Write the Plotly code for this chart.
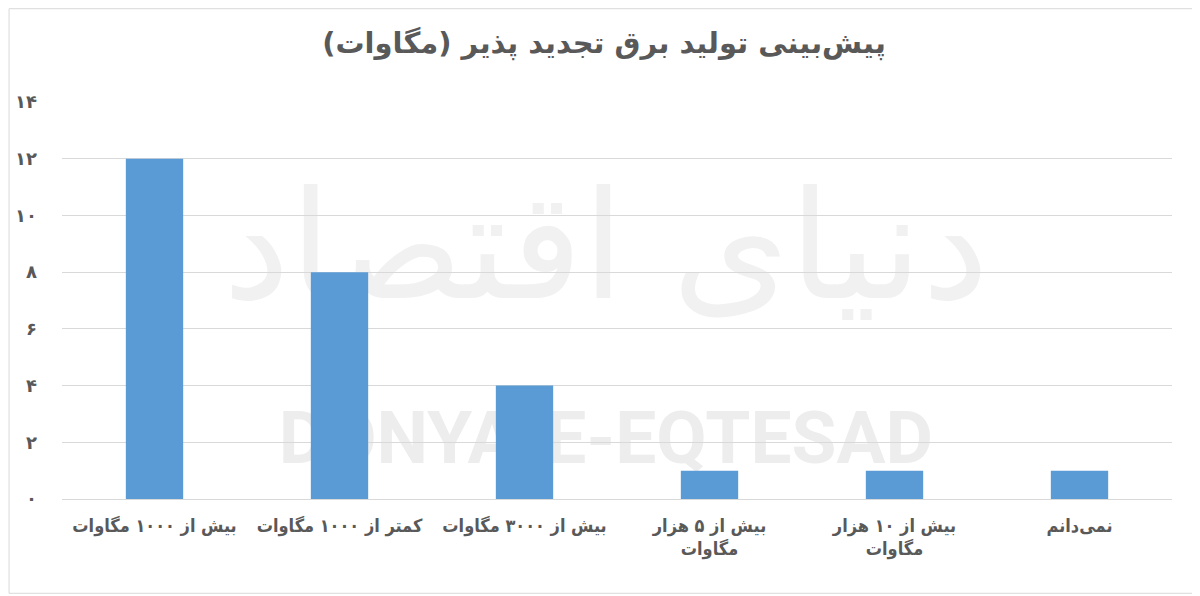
import plotly.graph_objects as go

# data
categories = [
    "بیش از ۱۰۰۰ مگاوات",
    "کمتر از ۱۰۰۰ مگاوات",
    "بیش از ۳۰۰۰ مگاوات",
    "بیش از ۵ هزار<br>مگاوات",
    "بیش از ۱۰ هزار<br>مگاوات",
    "نمی‌دانم",
]
values = [12, 8, 4, 1, 1, 1]
y_ticks = [0, 2, 4, 6, 8, 10, 12, 14]
y_tick_labels = ["۰", "۲", "۴", "۶", "۸", "۱۰", "۱۲", "۱۴"]
title = "پیش‌بینی تولید برق تجدید پذیر (مگاوات)"

font_family = "DejaVu Sans"
label_family = "DejaVu Sans Condensed, DejaVu Sans"
text_color = "#595959"

fig = go.Figure()
fig.add_trace(go.Bar(
    x=categories,
    y=values,
    marker=dict(color="#5B9BD5", line=dict(width=0)),
    width=0.31,
    showlegend=False,
))

# watermark, drawn as shape labels so it stays under the bars
fig.add_shape(
    type="rect", xref="paper", yref="paper", layer="below",
    x0=0.09, x1=0.89, y0=0.5, y1=0.83,
    line=dict(width=0), fillcolor="rgba(0,0,0,0)",
    label=dict(text="دنیای اقتصاد", textposition="middle center",
               font=dict(family=font_family, size=150, color="#f1f1f1")),
)
fig.add_shape(
    type="rect", xref="paper", yref="paper", layer="below",
    x0=0.19, x1=0.79, y0=0.08, y1=0.25,
    line=dict(width=0), fillcolor="rgba(0,0,0,0)",
    label=dict(text="<b>DONYA-E-EQTESAD</b>", textposition="middle center",
               font=dict(family="Roboto", size=73, color="#ededed")),
)

# light frame round the chart
fig.add_shape(
    type="rect", xref="paper", yref="paper",
    x0=-0.0477, x1=1.0234, y0=-0.2375, y1=1.235,
    line=dict(color="#d9d9d9", width=1),
)

fig.update_layout(
    width=1192,
    height=588,
    margin=dict(l=54, r=28, t=94, b=97),
    paper_bgcolor="white",
    plot_bgcolor="rgba(0,0,0,0)",
    title=dict(
        text="<b>" + title + "</b>",
        x=0.5, xanchor="center", y=0.94, yanchor="middle",
        font=dict(family=font_family, size=29, color=text_color),
    ),
    font=dict(family=font_family, color=text_color),
    xaxis=dict(
        showgrid=False,
        showline=False,
        ticks="",
        tickangle=0,
        automargin=False,
        ticklabelstandoff=14,
        tickfont=dict(family=label_family, size=18, color=text_color, weight="bold"),
    ),
    yaxis=dict(
        range=[0, 14],
        tickvals=y_ticks,
        ticktext=y_tick_labels,
        showgrid=True,
        gridcolor="#d9d9d9",
        gridwidth=1,
        zeroline=True,
        zerolinecolor="#d9d9d9",
        zerolinewidth=1,
        ticks="",
        automargin=False,
        ticklabelstandoff=24,
        tickfont=dict(size=18, color=text_color, weight="bold"),
    ),
)

fig.write_html("out.html")
